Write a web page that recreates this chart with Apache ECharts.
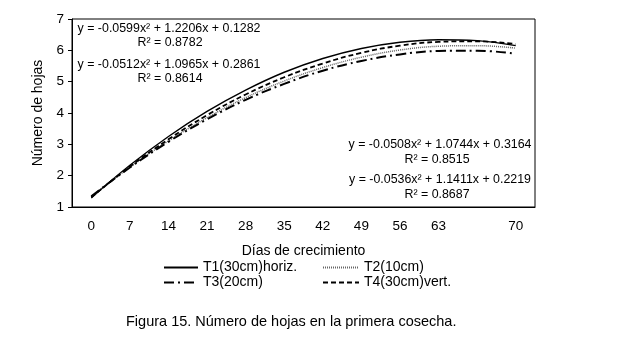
<!DOCTYPE html>
<html>
<head>
<meta charset="utf-8">
<script src="https://cdn.jsdelivr.net/npm/echarts@6/dist/echarts.min.js"></script>
<style>
  html, body { margin: 0; padding: 0; background: #fff; }
  #chart { width: 627px; height: 338px; }
</style>
</head>
<body>
<div id="chart"></div>
<script>
var chart = echarts.init(document.getElementById('chart'));

// días de crecimiento (la penúltima categoría no lleva etiqueta)
var dias = ['0', '7', '14', '21', '28', '35', '42', '49', '56', '63', '', '70'];

var t1 = [1.29, 2.33, 3.25, 4.05, 4.73, 5.30, 5.74, 6.06, 6.26, 6.34, 6.31, 6.15];
var t2 = [1.33, 2.27, 3.11, 3.85, 4.49, 5.02, 5.45, 5.78, 6.01, 6.13, 6.15, 6.07];
var t3 = [1.34, 2.26, 3.08, 3.80, 4.42, 4.93, 5.35, 5.66, 5.87, 5.98, 5.99, 5.89];
var t4 = [1.31, 2.29, 3.16, 3.93, 4.59, 5.14, 5.58, 5.92, 6.15, 6.27, 6.29, 6.20];

var nombres = ['T1(30cm)horiz.', 'T2(10cm)', 'T3(20cm)', 'T4(30cm)vert.'];

var fuente = 'Liberation Sans, Arial, sans-serif';

function linea(name, data, width, color, type) {
  return {
    name: name,
    type: 'line',
    data: data,
    smooth: 0.4,
    symbol: 'none',
    silent: true,
    lineStyle: { color: color, width: width, type: type },
    itemStyle: { color: color }
  };
}

function texto(x, y, t) {
  return {
    type: 'text', x: x, y: y,
    style: { text: t, font: '12.4px ' + fuente, fill: '#000', align: 'center', verticalAlign: 'middle' }
  };
}

var leyenda = {
  orient: 'vertical',
  top: 260,
  padding: 0, itemGap: 0,
  itemHeight: 10,
  itemStyle: { opacity: 0 },
  textStyle: { fontSize: 14, color: '#000', lineHeight: 15, fontFamily: fuente },
  selectedMode: false
};

var option = {
  animation: false,
  backgroundColor: '#fff',
  textStyle: { fontFamily: fuente, color: '#000' },
  grid: {
    left: 72, right: 92, top: 19, bottom: 131,
    show: true, borderColor: '#000', borderWidth: 1
  },
  xAxis: {
    type: 'category',
    data: dias,
    boundaryGap: true,
    name: 'Días de crecimiento',
    nameLocation: 'middle',
    nameGap: 37,
    nameTextStyle: { fontSize: 14, color: '#000', fontFamily: fuente },
    axisLine: { lineStyle: { color: '#000', width: 1 } },
    axisTick: { show: false },
    axisLabel: { fontSize: 13.5, color: '#000', margin: 12, interval: 0, fontFamily: fuente },
    splitLine: { show: false }
  },
  yAxis: {
    type: 'value',
    min: 1, max: 7, interval: 1,
    name: 'Número de hojas',
    nameLocation: 'middle',
    nameGap: 21,
    nameTextStyle: { fontSize: 14, color: '#000', fontFamily: fuente },
    axisLine: { show: true, lineStyle: { color: '#000', width: 1 } },
    axisTick: { show: true, length: 4, lineStyle: { color: '#000' } },
    axisLabel: { fontSize: 13.5, color: '#000', margin: 8, fontFamily: fuente },
    splitLine: { show: false }
  },
  legend: [
    Object.assign({}, leyenda, { data: [nombres[0], nombres[2]], left: 163, itemWidth: 34 }),
    Object.assign({}, leyenda, { data: [nombres[1], nombres[3]], left: 322, itemWidth: 36 })
  ],
  series: [
    linea(nombres[0], t1, 1.4, '#000', 'solid'),
    linea(nombres[1], t2, 1.5, '#666', [1, 1]),
    linea(nombres[2], t3, 2, '#000', [10, 4, 2, 4]),
    linea(nombres[3], t4, 1.8, '#000', [5, 3])
  ],
  graphic: [
    texto(169, 29, 'y = -0.0599x² + 1.2206x + 0.1282'),
    texto(170, 43, 'R² = 0.8782'),
    texto(169, 65, 'y = -0.0512x² + 1.0965x + 0.2861'),
    texto(170, 79, 'R² = 0.8614'),
    texto(440, 145, 'y = -0.0508x² + 1.0744x + 0.3164'),
    texto(437, 160, 'R² = 0.8515'),
    texto(440, 180, 'y = -0.0536x² + 1.1411x + 0.2219'),
    texto(437, 195, 'R² = 0.8687'),
    { type: 'text', left: 126, top: 314, style: { text: 'Figura 15. Número de hojas en la primera cosecha.', font: '14.5px ' + fuente, fill: '#000' } }
  ]
};

chart.setOption(option);
</script>
</body>
</html>
